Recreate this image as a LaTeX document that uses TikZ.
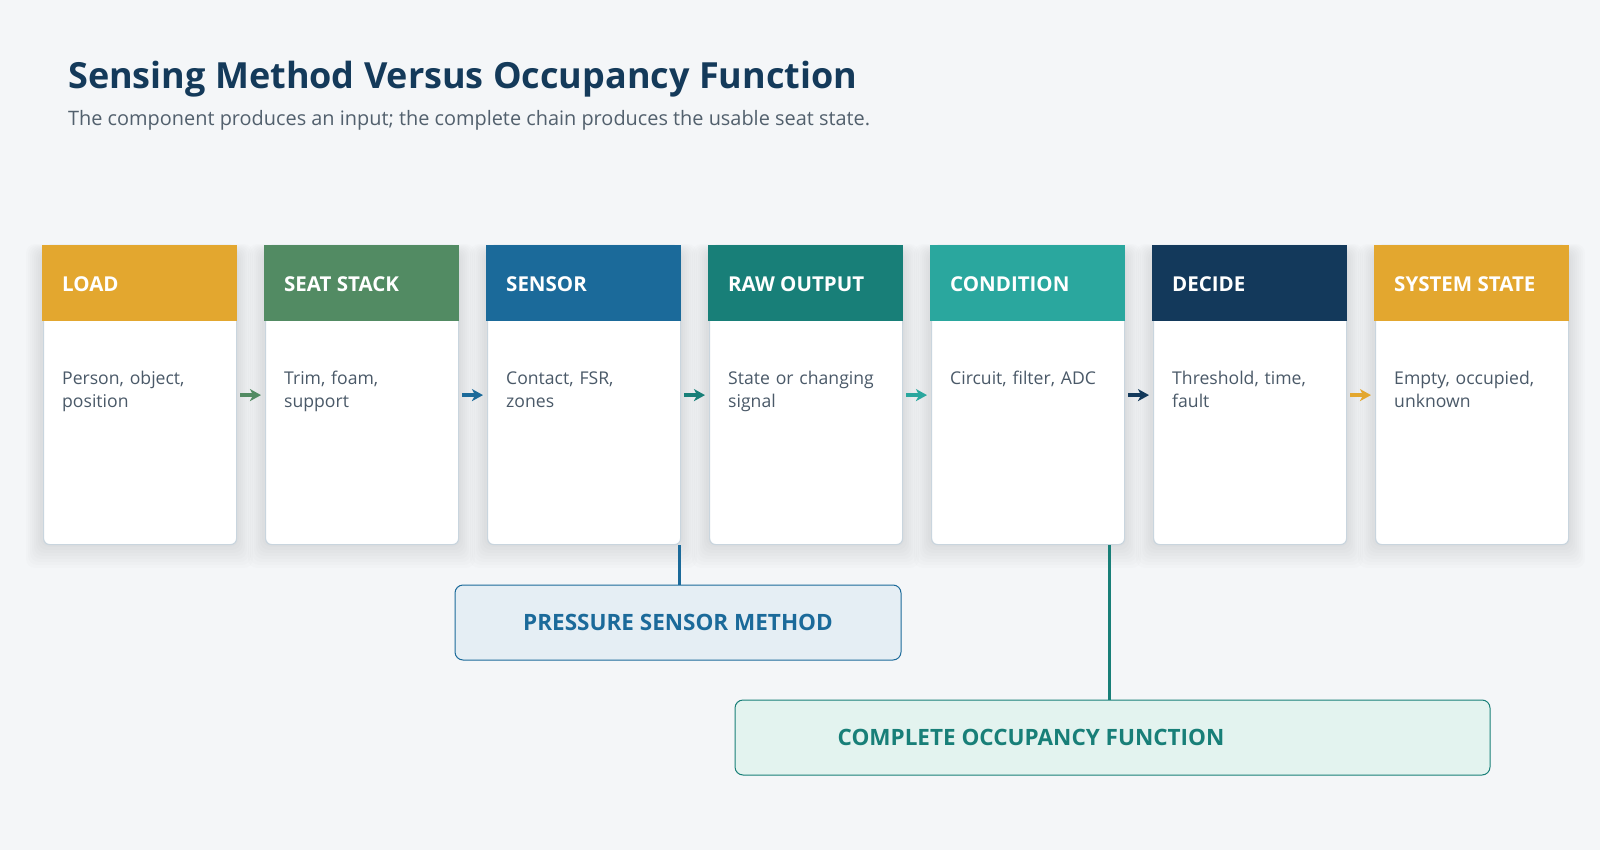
\documentclass[tikz,border=0pt]{standalone}
\usepackage{fontspec}
\setmainfont{Open Sans}
\usetikzlibrary{positioning,arrows.meta,calc}

\definecolor{bgc}{HTML}{F4F6F8}
\definecolor{titlec}{HTML}{143A5A}
\definecolor{subc}{HTML}{52606D}
\definecolor{bodyc}{HTML}{4A5968}
\definecolor{edgec}{HTML}{C9D5DE}
\definecolor{goldc}{HTML}{E3A72F}
\definecolor{greenc}{HTML}{528B63}
\definecolor{bluec}{HTML}{1B6A9A}
\definecolor{tealc}{HTML}{187F78}
\definecolor{aquac}{HTML}{2AA79E}
\definecolor{navyc}{HTML}{13395B}
\definecolor{pressfill}{HTML}{E5EEF4}
\definecolor{fullfill}{HTML}{E3F3EF}

\begin{document}
\begin{tikzpicture}[x=1pt, y=-1pt, >={Stealth[length=11pt,width=12pt,inset=3pt]},
	card/.style={draw=edgec, line width=1.2pt, fill=white, rounded corners=6pt,
		minimum width=193pt, minimum height=299pt, anchor=north west, inner sep=0pt},
	cardhead/.style={minimum width=195pt, minimum height=76pt, anchor=north west, inner sep=0pt},
	headtxt/.style={anchor=base west, text=white, font=\fontsize{20.5}{24}\selectfont\bfseries, inner sep=0pt},
	bodytxt/.style={anchor=base west, text=bodyc, align=left, text width=175pt,
		font=\fontsize{17.6}{23}\selectfont, inner sep=0pt},
	flow/.style={->, line width=4pt, shorten <=3pt, shorten >=4pt},
	method/.style={draw=#1, line width=1pt, rounded corners=8pt, minimum height=75pt, inner sep=0pt,
		text=#1, font=\fontsize{22.5}{26}\selectfont\bfseries},
	link/.style={line width=3pt}]
	
	% --- NỀN ---
	\fill[bgc] (0,0) rectangle (1600,850);
	\useasboundingbox (0,0) rectangle (1600,850);
	
	% --- TIÊU ĐỀ ---
	\node[anchor=base west, inner sep=0pt, text=titlec, font=\fontsize{36}{42}\selectfont\bfseries]
		(title) at (68,89) {Sensing Method Versus Occupancy Function};
	\node[anchor=base west, inner sep=0pt, text=subc, font=\fontsize{19.9}{24}\selectfont]
		(subtitle) at (68,126) {The component produces an input; the complete chain produces the usable seat state.};
	
	% --- CÁC THẺ ---
	\foreach \i/\nm/\hd/\col/\txt in {
		0/load/LOAD/goldc/{Person, object,\\position},
		1/stack/SEAT STACK/greenc/{Trim, foam,\\support},
		2/sensor/SENSOR/bluec/{Contact, FSR,\\zones},
		3/raw/RAW OUTPUT/tealc/{State or changing\\signal},
		4/cond/CONDITION/aquac/{Circuit, filter, ADC},
		5/decide/DECIDE/navyc/{Threshold, time,\\fault},
		6/state/SYSTEM STATE/goldc/{Empty, occupied,\\unknown}}{
		\pgfmathsetmacro{\xx}{42+222*\i}
		% bóng mờ
		\foreach \k in {1,...,8}
			\fill[black, opacity=0.011, rounded corners=9pt]
				(\xx-\k*2, 252-\k*1) rectangle (\xx+195+\k*2, 544+\k*3);
		\node[card] (\nm) at (\xx+1,245) {};
		\node[cardhead, fill=\col] (\nm-head) at (\xx,245) {};
		\node[headtxt] (\nm-title) at (\xx+20,291.5) {\hd};
		\node[bodytxt] (\nm-txt) at (\xx+20,384) {\txt};
	}
	
	% --- MŨI TÊN GIỮA CÁC THẺ ---
	\foreach \a/\b/\col in {load/stack/greenc, stack/sensor/bluec, sensor/raw/tealc,
		raw/cond/aquac, cond/decide/navyc, decide/state/goldc}
		\draw[flow, \col] (\a) -- (\b);
	
	% --- HAI KHUNG PHƯƠNG PHÁP ---
	\node[method=bluec, fill=pressfill, minimum width=446pt] (press) at (678,622.5) {PRESSURE SENSOR METHOD};
	\node[method=tealc, fill=fullfill, minimum width=755pt] (full) at (1112.5,737.5) {};
	\node[text=tealc, font=\fontsize{22.5}{26}\selectfont\bfseries, inner sep=0pt]
		(full-txt) at (1031,737.5) {COMPLETE OCCUPANCY FUNCTION};
	
	% Đường nối lên các thẻ
	\coordinate (press-top) at ([xshift=1.5pt]press.north);
	\coordinate (full-top) at ([xshift=-3.5pt]full.north);
	\draw[link, bluec] (press-top) -- (press-top |- sensor.south);
	\draw[link, tealc] (full-top) -- (full-top |- cond.south);
	
\end{tikzpicture}
\end{document}
